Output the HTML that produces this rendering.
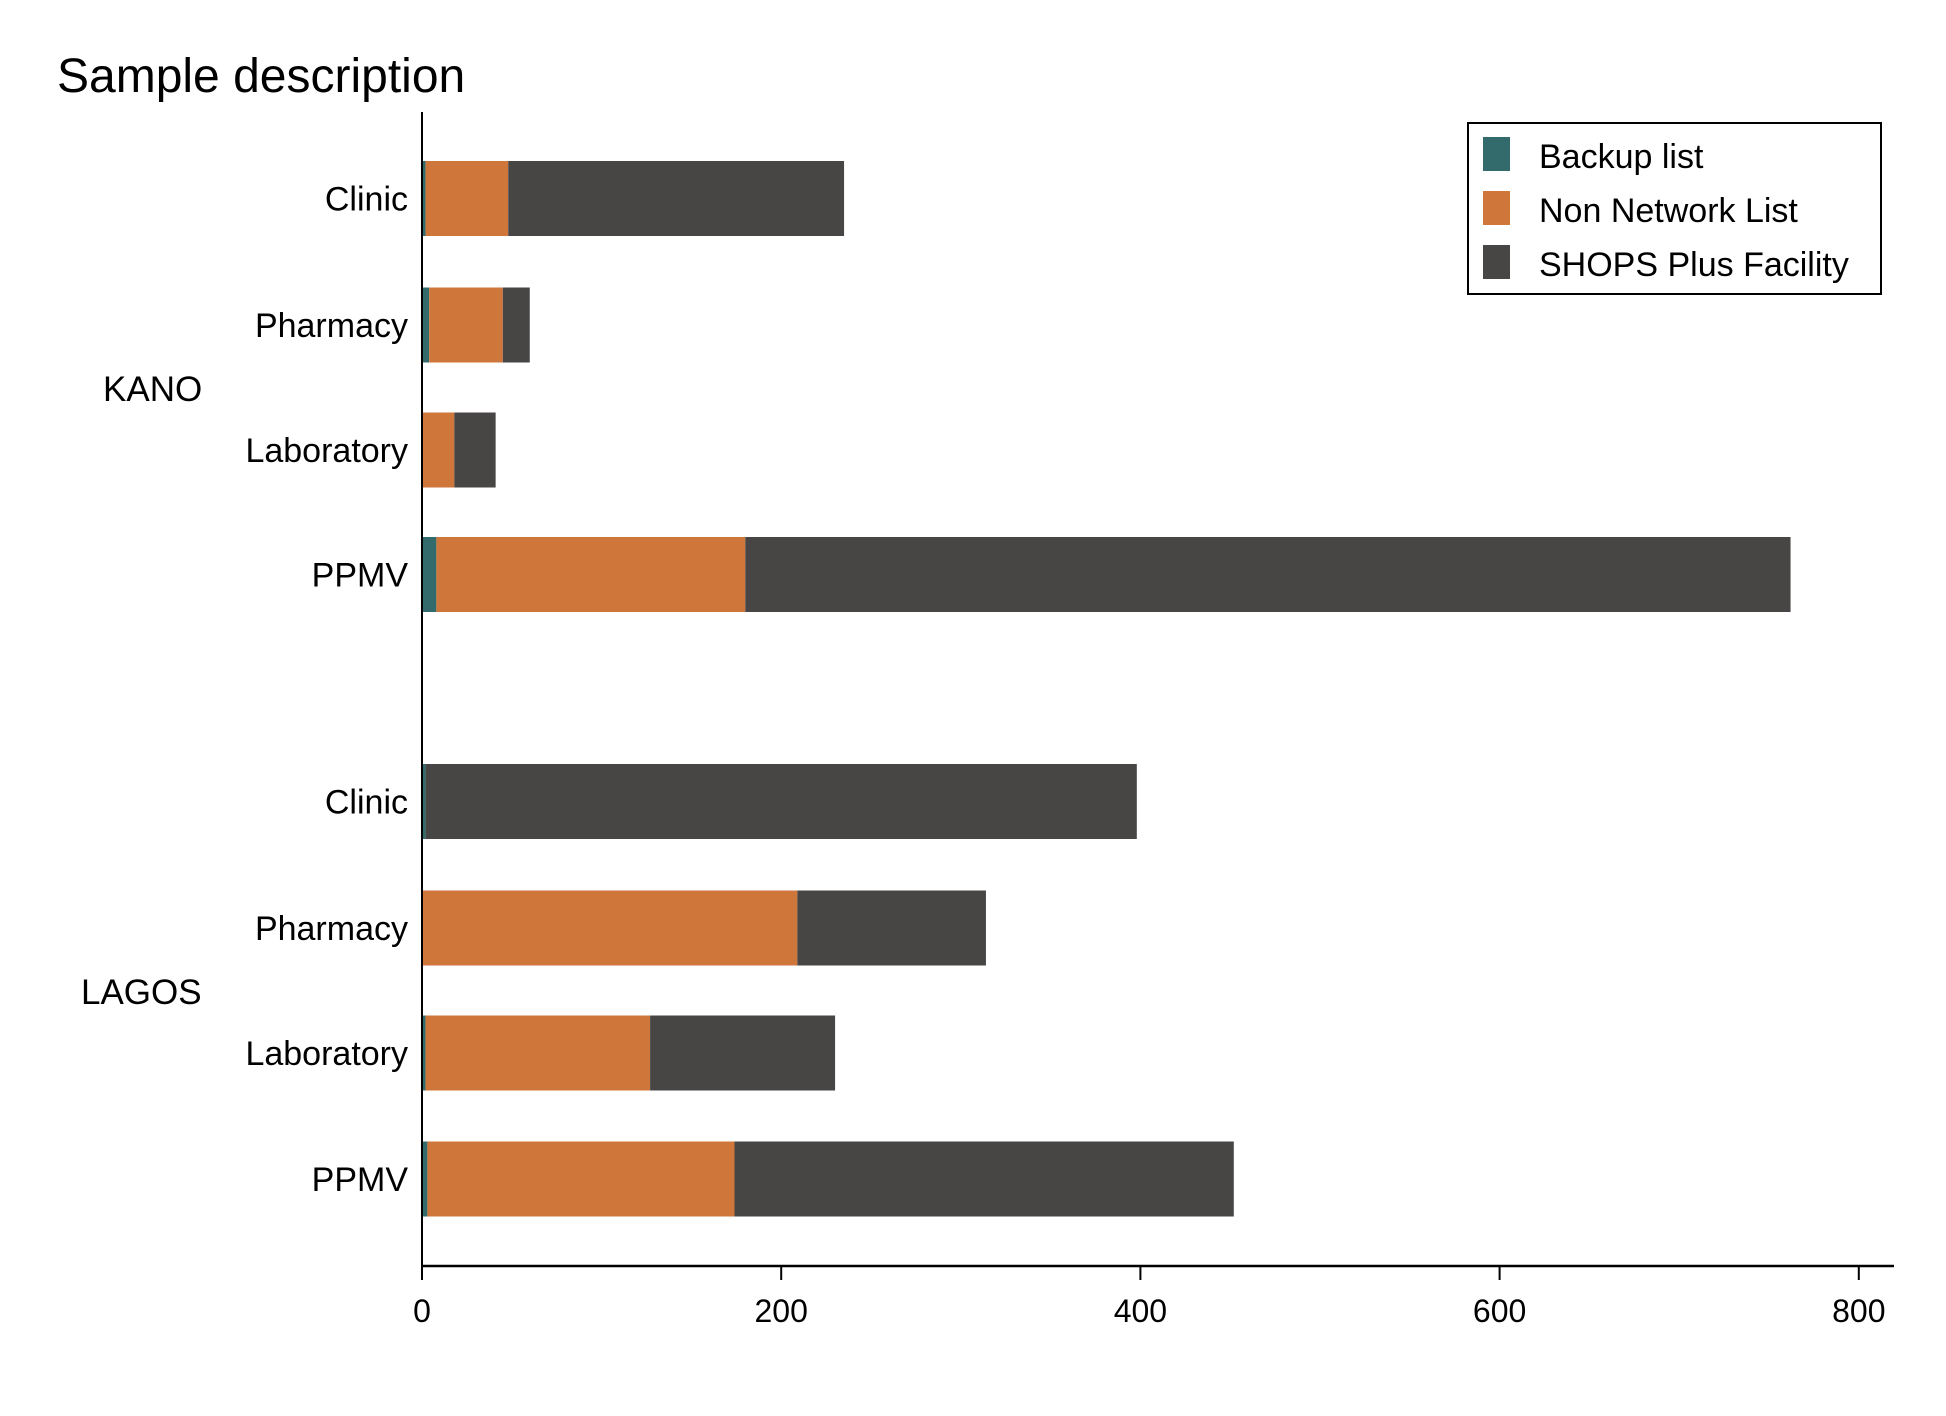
<!DOCTYPE html>
<html><head><meta charset="utf-8"><style>
html,body{margin:0;padding:0;background:#fff}
svg{display:block;font-family:"Liberation Sans",Arial,sans-serif}
</style></head><body>
<svg id="chart" width="1946" height="1416" viewBox="0 0 1946 1416">
<text x="57" y="92" font-size="48" fill="#000">Sample description</text>
<g id="bars"></g>
<g id="ylabels"></g>
<line x1="422" y1="112" x2="422" y2="1266" stroke="#000" stroke-width="2"/>
<line x1="422" y1="1266" x2="1894" y2="1266" stroke="#000" stroke-width="2.5"/>
<g id="xticks"></g>
<g>
<rect x="1468" y="123" width="413" height="171" fill="#fff" stroke="#000" stroke-width="2"/>
<rect x="1483" y="137" width="27" height="34" fill="#336a6c"/>
<text x="1539" y="168" font-size="34">Backup list</text>
<rect x="1483" y="191" width="27" height="34" fill="#cf763b"/>
<text x="1539" y="222" font-size="34">Non Network List</text>
<rect x="1483" y="245" width="27" height="34" fill="#484644"/>
<text x="1539" y="276" font-size="34">SHOPS Plus Facility</text>
</g>
<text x="103" y="401" font-size="35">KANO</text>
<text x="81" y="1004" font-size="35">LAGOS</text>
</svg>
<script>
const categories = ["Clinic","Pharmacy","Laboratory","PPMV","Clinic","Pharmacy","Laboratory","PPMV"];
const groups = ["kano","kano","kano","kano","lagos","lagos","lagos","lagos"];
const backup = [2,4,0,8,2,0,2,3];
const nonNetwork = [46,41,18,172,0,209,125,171];
const shops = [187,15,23,582,396,105,103,278];
const xTicks = [0,200,400,600,800];

const NS="http://www.w3.org/2000/svg";
const x0=422, pxPerUnit=1.796;
const xs=v=>x0+v*pxPerUnit;
const rowCenters=[198.5,325,450,574.5,801.5,928,1053,1179];
const ys=i=>rowCenters[i];
const barH=75;
const colors=["#336a6c","#cf763b","#484644"];
const seriesNames=["backup","non-network","shops"];
const bars=document.getElementById('bars');
const yl=document.getElementById('ylabels');
categories.forEach((c,i)=>{
  const vals=[backup[i],nonNetwork[i],shops[i]];
  let acc=0;
  vals.forEach((v,s)=>{
    const r=document.createElementNS(NS,'rect');
    r.setAttribute('x',xs(acc));
    r.setAttribute('y',ys(i)-barH/2);
    r.setAttribute('width',Math.max(0,xs(acc+v)-xs(acc)));
    r.setAttribute('height',barH);
    r.setAttribute('fill',colors[s]);
    
    
    bars.appendChild(r);
    acc+=v;
  });
  const t=document.createElementNS(NS,'text');
  t.setAttribute('x',408);
  t.setAttribute('y',ys(i)+12);
  t.setAttribute('font-size','34');
  t.setAttribute('text-anchor','end');
  t.textContent=c;
  
  
  yl.appendChild(t);
});
const xt=document.getElementById('xticks');
xTicks.forEach(v=>{
  const l=document.createElementNS(NS,'line');
  l.setAttribute('x1',xs(v));l.setAttribute('x2',xs(v));
  l.setAttribute('y1',1266);l.setAttribute('y2',1280);
  l.setAttribute('stroke','#000');l.setAttribute('stroke-width','2');
  
  
  xt.appendChild(l);
  const t=document.createElementNS(NS,'text');
  t.setAttribute('x',xs(v));t.setAttribute('y',1322);
  t.setAttribute('font-size','32');t.setAttribute('text-anchor','middle');
  t.textContent=v;
  
  
  xt.appendChild(t);
});
</script>
</body></html>
